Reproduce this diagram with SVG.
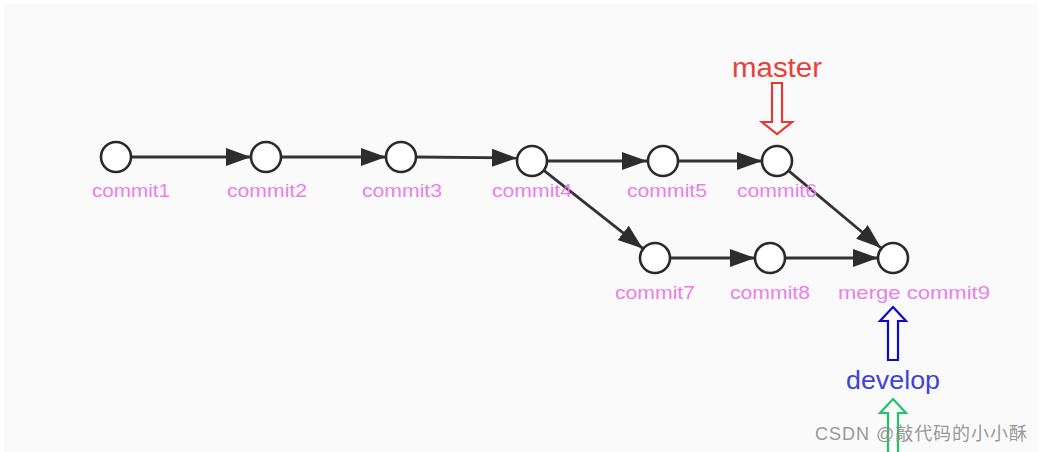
<svg xmlns="http://www.w3.org/2000/svg" width="1042" height="452" viewBox="0 0 1042 452">
<style>
.node circle{fill:#fff;stroke:#2a2a2a;stroke-width:2.6}
.lbl{font-family:"Liberation Sans",Arial,sans-serif;font-size:18.5px;fill:#ea7fea;text-anchor:middle}
.edge{stroke:#333;stroke-width:2.8;fill:none;marker-end:url(#ah)}
.ptr{stroke-width:2.2;fill:#fff}
</style>
<defs>
<marker id="ah" markerUnits="userSpaceOnUse" markerWidth="28" markerHeight="22" refX="25" refY="10" orient="auto" viewBox="0 0 28 22">
<path d="M0,1 L25,10 L0,19 Z" fill="#2d2d2d"/>
</marker>
</defs>
<rect x="0" y="0" width="1042" height="452" fill="#fff"/>
<rect x="4" y="4" width="1034" height="448" fill="#fafafa"/>
<g id="connectors">
<line class="edge" x1="131" y1="157" x2="251" y2="157"/>
<line class="edge" x1="281" y1="157" x2="386" y2="157"/>
<line class="edge" x1="416" y1="157" x2="517" y2="158"/>
<line class="edge" x1="547" y1="161" x2="647" y2="161"/>
<line class="edge" x1="678" y1="161" x2="762" y2="161"/>
<line class="edge" x1="543.8" y1="170.3" x2="642.8" y2="248.4"/>
<line class="edge" x1="670" y1="258" x2="755" y2="258"/>
<line class="edge" x1="785" y1="258" x2="878" y2="258"/>
<line class="edge" x1="788.5" y1="170.6" x2="881.1" y2="248"/>
</g>
<g id="commit1" class="node"><circle cx="116" cy="157" r="15"/><text class="lbl" x="131" y="197" textLength="78" lengthAdjust="spacingAndGlyphs">commit1</text></g>
<g id="commit2" class="node"><circle cx="266" cy="157" r="15"/><text class="lbl" x="267" y="197" textLength="80" lengthAdjust="spacingAndGlyphs">commit2</text></g>
<g id="commit3" class="node"><circle cx="401" cy="157" r="15"/><text class="lbl" x="402" y="197" textLength="80" lengthAdjust="spacingAndGlyphs">commit3</text></g>
<g id="commit4" class="node"><circle cx="532" cy="161" r="15"/><text class="lbl" x="532" y="197" textLength="80" lengthAdjust="spacingAndGlyphs">commit4</text></g>
<g id="commit5" class="node"><circle cx="663" cy="161" r="15"/><text class="lbl" x="667" y="197" textLength="80" lengthAdjust="spacingAndGlyphs">commit5</text></g>
<g id="commit6" class="node"><circle cx="777" cy="161" r="15"/><text class="lbl" x="777" y="197" textLength="80" lengthAdjust="spacingAndGlyphs">commit6</text></g>
<g id="commit7" class="node"><circle cx="655" cy="258" r="15"/><text class="lbl" x="655" y="299" textLength="80" lengthAdjust="spacingAndGlyphs">commit7</text></g>
<g id="commit8" class="node"><circle cx="770" cy="258" r="15"/><text class="lbl" x="770" y="299" textLength="80" lengthAdjust="spacingAndGlyphs">commit8</text></g>
<g id="commit9" class="node"><circle cx="893" cy="258" r="15"/><text class="lbl" x="914" y="299" textLength="152" lengthAdjust="spacingAndGlyphs">merge commit9</text></g>
<g id="master">
<text x="777" y="77" font-family="Liberation Sans,Arial,sans-serif" font-size="27" fill="#e8403a" text-anchor="middle" textLength="90" lengthAdjust="spacingAndGlyphs">master</text>
<path class="ptr" stroke="#e53935" d="M772,83 L782,83 L782,122 L792,122 L777,134 L762,122 L772,122 Z"/>
</g>
<g id="develop">
<path class="ptr" stroke="#0a0ad0" stroke-width="2.6" d="M893,307 L906,321 L898,321 L898,360 L888,360 L888,321 L880,321 Z"/>
<text x="893" y="389" font-family="Liberation Sans,Arial,sans-serif" font-size="25" fill="#4040dd" text-anchor="middle" textLength="94" lengthAdjust="spacingAndGlyphs">develop</text>
<path class="ptr" stroke="#1fc46a" stroke-width="2.6" d="M893,399 L906,413 L898,413 L898,456 L888,456 L888,413 L880,413 Z"/>
</g>
<text x="921" y="440" font-family="Liberation Sans,'Noto Sans CJK SC',sans-serif" font-size="18" fill="#8a8a8a" fill-opacity="0.9" text-anchor="middle" textLength="212">CSDN @敲代码的小小酥</text>
</svg>
